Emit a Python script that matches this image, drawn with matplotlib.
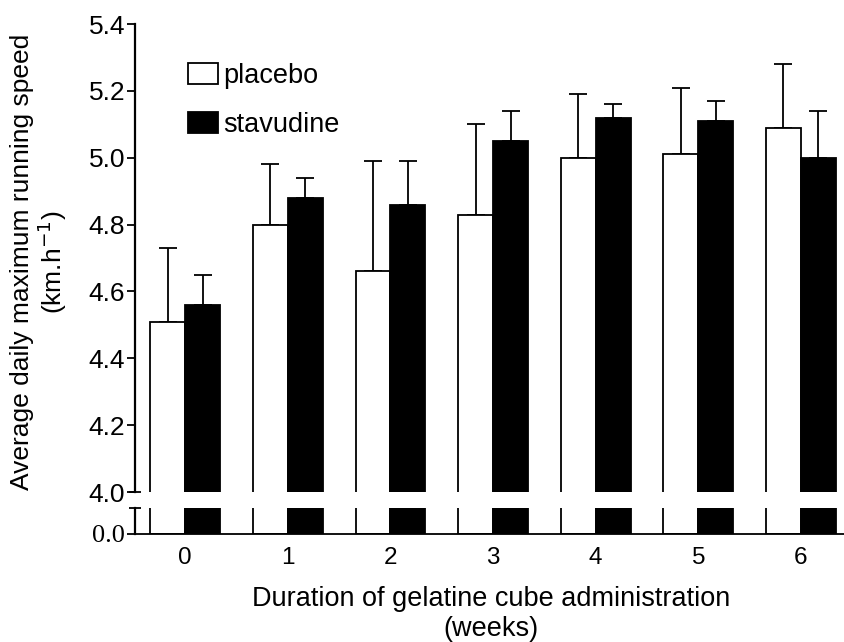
import matplotlib
matplotlib.use("Agg")
import matplotlib.pyplot as plt
from matplotlib.patches import Patch

plt.rcParams['font.family'] = ['Liberation Sans', 'DejaVu Sans']

weeks = [0, 1, 2, 3, 4, 5, 6]
week_labels = ['0', '1', '2', '3', '4', '5', '6']
placebo = [4.51, 4.80, 4.66, 4.83, 5.00, 5.01, 5.09]
placebo_sem = [0.22, 0.18, 0.33, 0.27, 0.19, 0.20, 0.19]
stavudine = [4.56, 4.88, 4.86, 5.05, 5.12, 5.11, 5.00]
stavudine_sem = [0.09, 0.06, 0.13, 0.09, 0.04, 0.06, 0.14]

W, H = 844, 642
fig = plt.figure(figsize=(W / 100, H / 100), dpi=100)

left = 135 / W
width = 1.0 - left
ax = fig.add_axes([left, 1 - 492 / H, width, (492 - 24) / H])
axb = fig.add_axes([left, 1 - 534 / H, width, (534 - 508) / H])

bw = 0.34
xp = [w - bw / 2 for w in weeks]
xs = [w + bw / 2 for w in weeks]

for a in (ax, axb):
    a.bar(xp, placebo, width=bw, color='white', edgecolor='black', linewidth=1.3, zorder=2)
    a.bar(xs, stavudine, width=bw, color='black', edgecolor='black', linewidth=1.3, zorder=2)
    a.set_xlim(-0.49, 6.42)
    for s in ('top', 'right'):
        a.spines[s].set_visible(False)
    a.spines['left'].set_linewidth(1.6)
    a.tick_params(axis='y', direction='out', length=6, width=1.3, labelsize=19, pad=1)

ax.errorbar(xp, placebo, yerr=[[0] * 7, placebo_sem], fmt='none', ecolor='black',
            elinewidth=1.3, capsize=6.5, capthick=1.3, zorder=1)
ax.errorbar(xs, stavudine, yerr=[[0] * 7, stavudine_sem], fmt='none', ecolor='black',
            elinewidth=1.3, capsize=6.5, capthick=1.3, zorder=1)

ax.set_ylim(4.0, 5.4)
ax.set_yticks([4.0, 4.2, 4.4, 4.6, 4.8, 5.0, 5.2, 5.4])
ax.set_yticklabels(['4.0', '4.2', '4.4', '4.6', '4.8', '5.0', '5.2', '5.4'])
ax.spines['bottom'].set_visible(False)
ax.tick_params(axis='x', bottom=False, labelbottom=False)

axb.set_ylim(0, 0.3)
axb.set_yticks([0])
axb.set_yticklabels(['0.0'], fontfamily='Liberation Serif', fontsize=19)
axb.spines['bottom'].set_linewidth(1.3)
axb.set_xticks(weeks)
axb.set_xticklabels(week_labels)
axb.tick_params(axis='x', length=0, labelsize=17.5, pad=9)

# break marks on the y axis
ax.plot([0], [0], marker='_', markersize=9, mew=1.3, color='black',
        transform=ax.transAxes, clip_on=False)
axb.plot([0], [1], marker='_', markersize=9, mew=1.3, color='black',
         transform=axb.transAxes, clip_on=False)

handles = [Patch(facecolor='white', edgecolor='black', linewidth=1.3, label='placebo'),
           Patch(facecolor='black', edgecolor='black', linewidth=1.3, label='stavudine')]
ax.legend(handles=handles, loc='upper left', bbox_to_anchor=(0.0748, 0.917),
          frameon=False, fontsize=19.5, handlelength=1.1, handleheight=0.8,
          handletextpad=0.2, labelspacing=0.85, borderpad=0, borderaxespad=0)

fig.text(22 / W, 1 - 262 / H, 'Average daily maximum running speed',
         rotation=90, ha='center', va='center', fontsize=19)
fig.text(52 / W, 1 - 262 / H, '(km.h$^{-1}$)',
         rotation=90, ha='center', va='center', fontsize=19)
fig.text(491 / W, 1 - 606 / H, 'Duration of gelatine cube administration',
         ha='center', va='baseline', fontsize=19.5)
fig.text(491 / W, 1 - 636 / H, '(weeks)',
         ha='center', va='baseline', fontsize=19.5)

fig.savefig('out.png', dpi=100)
